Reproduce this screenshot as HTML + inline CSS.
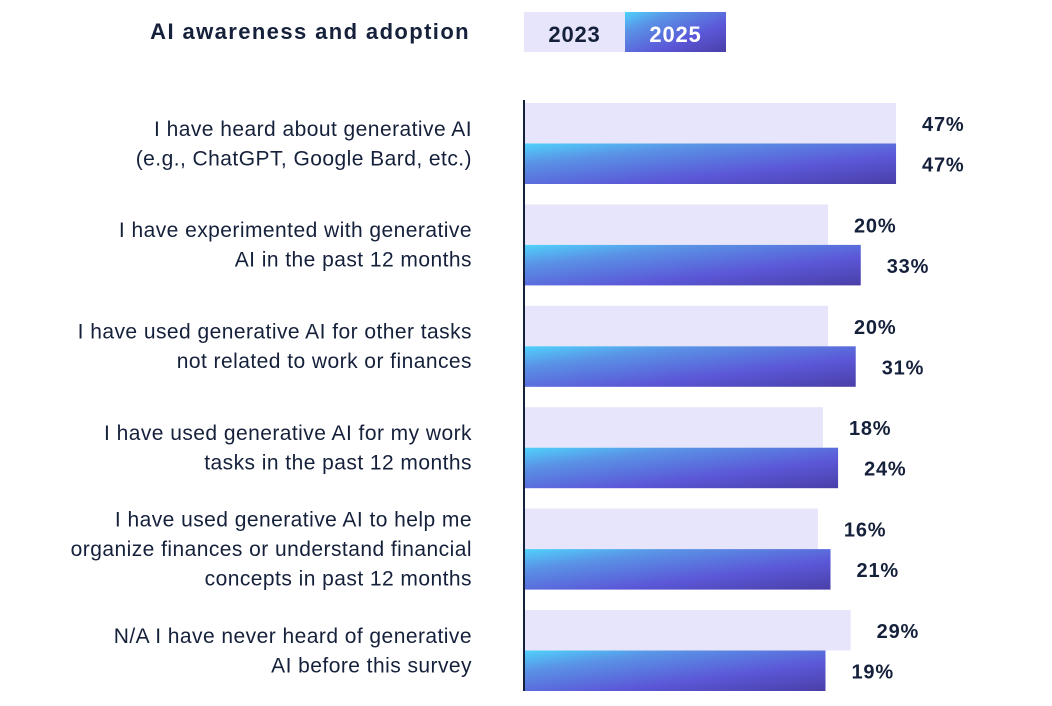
<!DOCTYPE html>
<html><head><meta charset="utf-8">
<style>
html,body{margin:0;padding:0;background:#fff;}
svg{display:block;font-family:"Liberation Sans",sans-serif;}
</style></head>
<body>
<svg id="chart" width="1052" height="706" viewBox="0 0 1052 706">
<defs>
<linearGradient id="g25" x1="0" y1="0" x2="1" y2="1">
<stop offset="0" stop-color="#4fd2fb"/>
<stop offset="0.25" stop-color="#5a93e6"/>
<stop offset="0.65" stop-color="#5b57d7"/>
<stop offset="1" stop-color="#4a3fa8"/>
</linearGradient>
</defs>
<text x="470" y="39" text-anchor="end" font-size="22" font-weight="bold" letter-spacing="1.4" fill="#15203b">AI awareness and adoption</text>
<g>
<rect x="524" y="12" width="101" height="40" fill="#e6e5fb"/>
<text x="574.5" y="42" text-anchor="middle" font-size="22" font-weight="bold" letter-spacing="0.8" fill="#15203b">2023</text>
<rect x="625" y="12" width="101" height="40" fill="url(#g25)"/>
<text x="675.5" y="42" text-anchor="middle" font-size="22" font-weight="bold" letter-spacing="0.8" fill="#ffffff">2025</text>
</g>
<g id="bars"></g>
<line x1="524" y1="100" x2="524" y2="691" stroke="#15203b" stroke-width="2"/>
<script>
const categories = [
 ["I have heard about generative AI","(e.g., ChatGPT, Google Bard, etc.)"],
 ["I have experimented with generative","AI in the past 12 months"],
 ["I have used generative AI for other tasks","not related to work or finances"],
 ["I have used generative AI for my work","tasks in the past 12 months"],
 ["I have used generative AI to help me","organize finances or understand financial","concepts in past 12 months"],
 ["N/A I have never heard of generative","AI before this survey"]
];
const values2023 = [47, 20, 20, 18, 16, 29];
const values2025 = [47, 33, 31, 24, 21, 19];

const NS = "http://www.w3.org/2000/svg";
const g = document.getElementById("bars");
function xScale(v){ return 253.6 + 2.52 * v; }
function yBand(i){ return 103 + i * 101.4; }
function mk(tag, attrs){ const e=document.createElementNS(NS,tag); for(const k in attrs) e.setAttribute(k,attrs[k]); return e; }
categories.forEach((lines, i) => {
  const y0 = yBand(i);
  const w1 = xScale(values2023[i]), w2 = xScale(values2025[i]);
  const r1 = mk("rect",{x:524,y:y0,width:w1,height:40.5,fill:"#e6e5fb"});
  
  
  g.appendChild(r1);
  const r2 = mk("rect",{x:524,y:y0+40.5,width:w2,height:40.5,fill:"url(#g25)"});
  
  
  g.appendChild(r2);
  const t1 = mk("text",{x:524+w1+26,y:y0+28,"font-size":20,"font-weight":"bold","letter-spacing":0.8,fill:"#15203b"});
  t1.textContent = values2023[i] + "%";
  
  
  g.appendChild(t1);
  const t2 = mk("text",{x:524+w2+26,y:y0+68.5,"font-size":20,"font-weight":"bold","letter-spacing":0.8,fill:"#15203b"});
  t2.textContent = values2025[i] + "%";
  
  
  g.appendChild(t2);
  const cy = y0 + 40.5;
  const n = lines.length;
  lines.forEach((ln, j) => {
    const t = mk("text",{x:472,y:cy + (j - (n-1)/2)*29.5 + 7,"text-anchor":"end","font-size":21,"letter-spacing":0.45,fill:"#15203b"});
    t.textContent = ln;
    
    
    g.appendChild(t);
  });
});
</script>
</svg>
</body></html>
